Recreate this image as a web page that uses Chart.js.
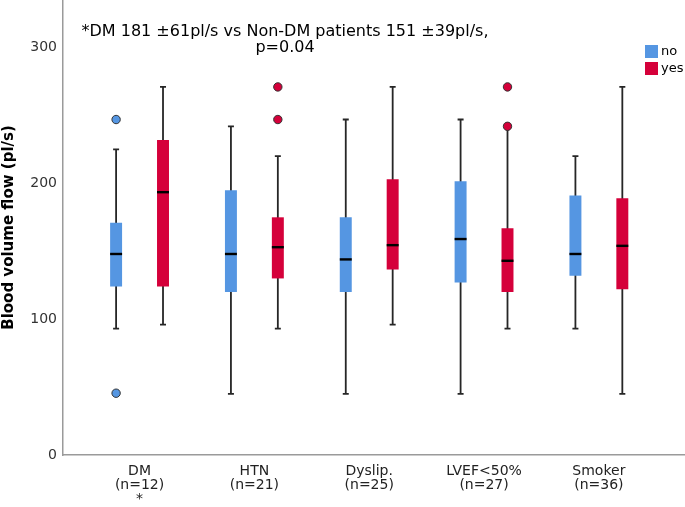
<!DOCTYPE html>
<html><head><meta charset="utf-8">
<script src="https://cdn.jsdelivr.net/npm/chart.js@4.4.1/dist/chart.umd.min.js"></script>
<style>html,body{margin:0;padding:0;background:#fff;} #wrap{width:685px;height:507px;}</style>
</head><body><div id="wrap"><canvas id="c" width="685" height="507"></canvas></div>
<script>
// ---- data ----
const categories = ['DM', 'HTN', 'Dyslip.', 'LVEF<50%', 'Smoker'];
const nCounts = ['(n=12)', '(n=21)', '(n=25)', '(n=27)', '(n=36)'];
const sigMarks = ['*', '', '', '', ''];
const seriesNames = ['no', 'yes'];

// "no" group
const lowNo  = [93, 45, 45, 45, 93];
const q1No   = [124, 120, 120, 127, 132];
const medNo  = [148, 148, 144, 159, 148];
const q3No   = [171, 195, 175, 201.5, 191];
const highNo = [225, 242, 247, 247, 220];
const outNo  = [[247, 45.5], [], [], [], []];

// "yes" group
const lowYes  = [96, 93, 96, 93, 45];
const q1Yes   = [124, 130, 136.5, 120, 122];
const medYes  = [193.5, 153, 154.5, 143, 154];
const q3Yes   = [232, 175, 203, 167, 189];
const highYes = [271, 220, 271, 241, 271];
const outYes  = [[], [271, 247], [], [271, 242], []];

const yTicks = [0, 100, 200, 300];
const noteLines = ['*DM 181 \u00b161pl/s vs Non-DM patients 151 \u00b139pl/s,', 'p=0.04'];

// ---- styling ----
const BLUE = '#5596E2';
const RED = '#D5003A';
const FONT = "'DejaVu Sans', sans-serif";

const stats = [
  { low: lowNo, q1: q1No, med: medNo, q3: q3No, high: highNo, out: outNo, color: BLUE },
  { low: lowYes, q1: q1Yes, med: medYes, q3: q3Yes, high: highYes, out: outYes, color: RED }
];

const boxPlugin = {
  id: 'boxExtras',
  beforeDatasetsDraw(chart) {
    const ctx = chart.ctx, ys = chart.scales.y;
    ctx.save();
    ctx.strokeStyle = '#262626';
    ctx.lineWidth = 1.8;
    stats.forEach((s, di) => {
      const meta = chart.getDatasetMeta(di);
      meta.data.forEach((el, i) => {
        const x = el.x;
        const yl = ys.getPixelForValue(s.low[i]);
        const yh = ys.getPixelForValue(s.high[i]);
        ctx.beginPath();
        ctx.moveTo(x, yl); ctx.lineTo(x, yh);
        ctx.moveTo(x - 3, yl); ctx.lineTo(x + 3, yl);
        ctx.moveTo(x - 3, yh); ctx.lineTo(x + 3, yh);
        ctx.stroke();
      });
    });
    ctx.restore();
  },
  afterDatasetsDraw(chart) {
    const ctx = chart.ctx, ys = chart.scales.y;
    ctx.save();
    stats.forEach((s, di) => {
      const meta = chart.getDatasetMeta(di);
      meta.data.forEach((el, i) => {
        const x = el.x, w = el.width;
        const ym = ys.getPixelForValue(s.med[i]);
        ctx.strokeStyle = '#000';
        ctx.lineWidth = 2.4;
        ctx.beginPath();
        ctx.moveTo(x - w / 2, ym); ctx.lineTo(x + w / 2, ym);
        ctx.stroke();
        s.out[i].forEach(v => {
          const yo = ys.getPixelForValue(v);
          ctx.beginPath();
          ctx.arc(x, yo, 4.2, 0, Math.PI * 2);
          ctx.fillStyle = s.color;
          ctx.fill();
          ctx.lineWidth = 1;
          ctx.strokeStyle = '#333';
          ctx.stroke();
        });
      });
    });
    // note text
    const ca = chart.chartArea;
    ctx.fillStyle = '#000';
    ctx.font = '16px ' + FONT;
    ctx.textAlign = 'center';
    ctx.textBaseline = 'alphabetic';
    const cx = ca.left + 222;
    ctx.fillText(noteLines[0], cx, ca.top + 36);
    ctx.fillText(noteLines[1], cx, ca.top + 52);
    // legend
    const lx = ca.right - 40;
    chart.data.datasets.forEach((ds, di) => {
      const ly = ca.top + 45 + di * 17;
      ctx.fillStyle = ds.backgroundColor;
      ctx.fillRect(lx, ly, 13, 13);
      ctx.fillStyle = '#000';
      ctx.textAlign = 'left';
      ctx.textBaseline = 'middle';
      ctx.font = '13px ' + FONT;
      ctx.fillText(ds.label, lx + 16, ly + 6.5);
    });
    ctx.restore();
  }
};

new Chart(document.getElementById('c'), {
  type: 'bar',
  data: {
    datasets: [
      { label: seriesNames[0], data: categories.map((c, i) => ({ x: i, y: [q1No[i], q3No[i]] })),
        backgroundColor: BLUE, borderWidth: 0, categoryPercentage: 0.817, barPercentage: 0.255 },
      { label: seriesNames[1], data: categories.map((c, i) => ({ x: i, y: [q1Yes[i], q3Yes[i]] })),
        backgroundColor: RED, borderWidth: 0, categoryPercentage: 0.817, barPercentage: 0.255 }
    ]
  },
  options: {
    responsive: false,
    devicePixelRatio: 1,
    animation: false,
    layout: { padding: 0 },
    plugins: { legend: { display: false }, tooltip: { enabled: false }, title: { display: false } },
    scales: {
      x: {
        type: 'linear',
        offset: false,
        min: -2 / 3,
        max: 4.75,
        grid: { display: false, drawTicks: false, offset: false },
        border: { display: true, color: '#9a9a9a', width: 1.5 },
        afterFit: (s) => { s.height = 52; s.paddingLeft = 0; s.paddingRight = 0; },
        ticks: {
          stepSize: 1,
          includeBounds: false,
          autoSkip: false,
          maxRotation: 0,
          padding: 9,
          color: '#222',
          font: { family: FONT, size: 14, lineHeight: 1.0 },
          callback: (v) => {
            const i = Math.round(v);
            if (Math.abs(v - i) > 1e-6 || i < 0 || i >= categories.length) return '';
            return sigMarks[i] ? [categories[i], nCounts[i], sigMarks[i]] : [categories[i], nCounts[i]];
          }
        }
      },
      y: {
        min: 0,
        max: 335,
        grid: { display: false, drawTicks: false },
        border: { display: true, color: '#9a9a9a', width: 1.5 },
        afterFit: (s) => { s.width = 63; s.paddingTop = 0; s.paddingBottom = 0; },
        afterBuildTicks: (s) => { s.ticks = yTicks.map(v => ({ value: v })); },
        ticks: {
          padding: 6,
          color: '#333',
          font: { family: FONT, size: 14 }
        },
        title: {
          display: true,
          text: 'Blood volume flow (pl/s)',
          color: '#000',
          padding: 0,
          font: { family: FONT, size: 15, weight: 'bold' }
        }
      }
    }
  },
  plugins: [boxPlugin]
});
</script>
</body></html>
